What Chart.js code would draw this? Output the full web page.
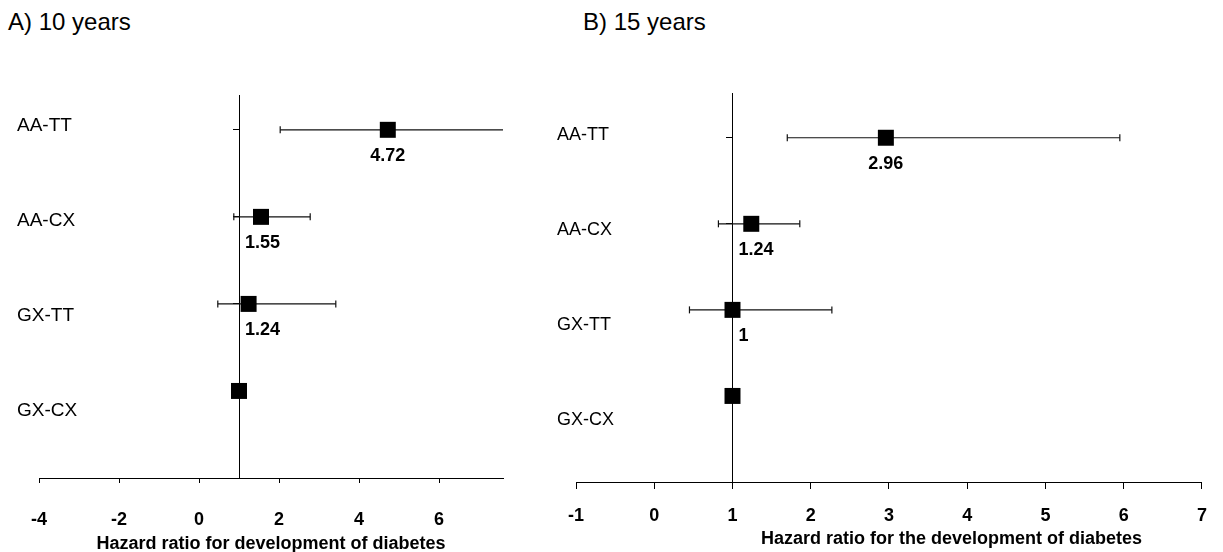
<!DOCTYPE html>
<html>
<head>
<meta charset="utf-8">
<script src="https://cdn.jsdelivr.net/npm/chart.js@4.4.1/dist/chart.umd.min.js"></script>
<style>
  body { margin: 0; background: #fff; width: 1223px; height: 552px; overflow: hidden; }
  .panel { position: absolute; top: 0; }
  .ptitle { position: absolute; top: 8px; font: 24px/28px "Liberation Sans", Arial, sans-serif; color: #000; }
</style>
</head>
<body>
<div class="ptitle" style="left:8px">A) 10 years</div>
<div class="ptitle" style="left:583px">B) 15 years</div>
<div class="panel" style="left:0"><canvas id="chart10" width="545" height="552"></canvas></div>
<div class="panel" style="left:545px"><canvas id="chart15" width="678" height="552"></canvas></div>
<script>
// rows top to bottom, y position of each row on the plot
const categories = ['AA-TT', 'AA-CX', 'GX-TT', 'GX-CX'];
const rowPos = [4, 3, 2, 1];

// A) 10 years  (GX-CX is the reference group)
const hr10 = [4.72, 1.55, 1.24, 1];
const low10 = [2.03, 0.87, 0.47, null];
const high10 = [11, 2.78, 3.42, null];
const ticks10 = [-4, -2, 0, 2, 4, 6];

// B) 15 years
const hr15 = [2.96, 1.24, 1, 1];
const low15 = [1.70, 0.82, 0.45, null];
const high15 = [5.95, 1.86, 2.27, null];
const ticks15 = [-1, 0, 1, 2, 3, 4, 5, 6, 7];

const FONT = '"Liberation Sans", Arial, sans-serif';

function textPlugin(o) {
    return {
        id: 'forestText',
        afterDatasetsDraw(chart) {
            const { ctx, chartArea, scales: { x, y, yLab } } = chart;
            ctx.save();
            ctx.fillStyle = '#000';
            ctx.textBaseline = 'middle';

            // row names
            ctx.textAlign = 'left';
            ctx.font = o.catFont + 'px ' + FONT;
            categories.forEach((c, i) => {
                ctx.fillText(c, o.labelX, yLab.getPixelForValue(rowPos[i]));
            });

            // hazard ratio under each square, kept right of the reference line
            ctx.font = 'bold ' + o.valFont + 'px ' + FONT;
            const refX = x.getPixelForValue(1);
            o.hr.forEach((v, i) => {
                if (o.low[i] === null) return;
                const t = String(v);
                const w = ctx.measureText(t).width;
                const px = Math.max(x.getPixelForValue(v) - w / 2, refX + 6);
                ctx.fillText(t, px, y.getPixelForValue(rowPos[i]) + 26);
            });

            // axis title
            ctx.textAlign = 'center';
            const tx = chartArea.left + (chartArea.right - chartArea.left) * o.titleFrac;
            ctx.fillText(o.xTitle, tx, o.titleY);
            ctx.restore();
        }
    };
}

function forestChart(id, o) {
    const datasets = [{
        data: o.hr.map((v, i) => ({ x: v, y: rowPos[i] })),
        pointStyle: 'rect',
        pointRadius: 11.3,
        pointHoverRadius: 11.3,
        backgroundColor: '#000',
        borderWidth: 0
    }];
    o.low.forEach((lo, i) => {
        if (lo === null) return;
        datasets.push({
            data: [{ x: lo, y: rowPos[i] }, { x: o.high[i], y: rowPos[i] }],
            showLine: true,
            borderColor: '#111',
            borderWidth: 1.2,
            pointStyle: 'line',
            rotation: 90,
            pointRadius: 3.5,
            pointHoverRadius: 3.5,
            pointBorderColor: '#111',
            pointBorderWidth: 1.2
        });
    });

    new Chart(document.getElementById(id), {
        type: 'scatter',
        data: { datasets },
        options: {
            responsive: false,
            animation: false,
            devicePixelRatio: 1,
            events: [],
            layout: { padding: o.padding },
            plugins: { legend: { display: false }, tooltip: { enabled: false } },
            scales: {
                x: {
                    type: 'linear',
                    min: o.min,
                    max: o.max,
                    afterBuildTicks: s => { s.ticks = o.ticks.map(v => ({ value: v })); },
                    afterFit: s => { s.height = o.axisHeight; },
                    grid: { drawOnChartArea: false, drawTicks: true, tickLength: o.tickLen, color: '#000' },
                    border: { display: true, color: '#000', width: 1 },
                    ticks: {
                        color: '#000',
                        padding: o.tickPad,
                        maxRotation: 0,
                        autoSkip: false,
                        font: { family: FONT, size: o.valFont, weight: 'bold' }
                    }
                },
                y: {
                    type: 'linear',
                    min: 0,
                    max: o.yMax,
                    position: { x: 1 },
                    afterBuildTicks: s => { s.ticks = rowPos.map(v => ({ value: v })); },
                    grid: { drawOnChartArea: false, drawTicks: true, tickLength: 6, color: '#000' },
                    border: { display: true, color: '#000', width: 1 },
                    ticks: { display: false }
                },
                yLab: { type: 'linear', display: false, min: o.labMin, max: o.labMax }
            }
        },
        plugins: [textPlugin(o)]
    });
}

forestChart('chart10', {
    hr: hr10, low: low10, high: high10, ticks: ticks10,
    min: -4, max: 7.6, yMax: 4.4, labMin: 0.295, labMax: 4.327,
    padding: { left: 39, right: 42, top: 95, bottom: 0 },
    axisHeight: 74, tickLen: 5, tickPad: 26,
    catFont: 19, valFont: 18, labelX: 17,
    xTitle: 'Hazard ratio for development of diabetes', titleFrac: 0.5, titleY: 544
});

forestChart('chart15', {
    hr: hr15, low: low15, high: high15, ticks: ticks15,
    min: -1, max: 7, yMax: 4.52, labMin: 0.347, labMax: 4.442,
    padding: { left: 31, right: 18, top: 93, bottom: 0 },
    axisHeight: 70, tickLen: 7, tickPad: 16,
    catFont: 18, valFont: 18, labelX: 12,
    xTitle: 'Hazard ratio for the development of diabetes', titleFrac: 0.6, titleY: 539
});
</script>
</body>
</html>
